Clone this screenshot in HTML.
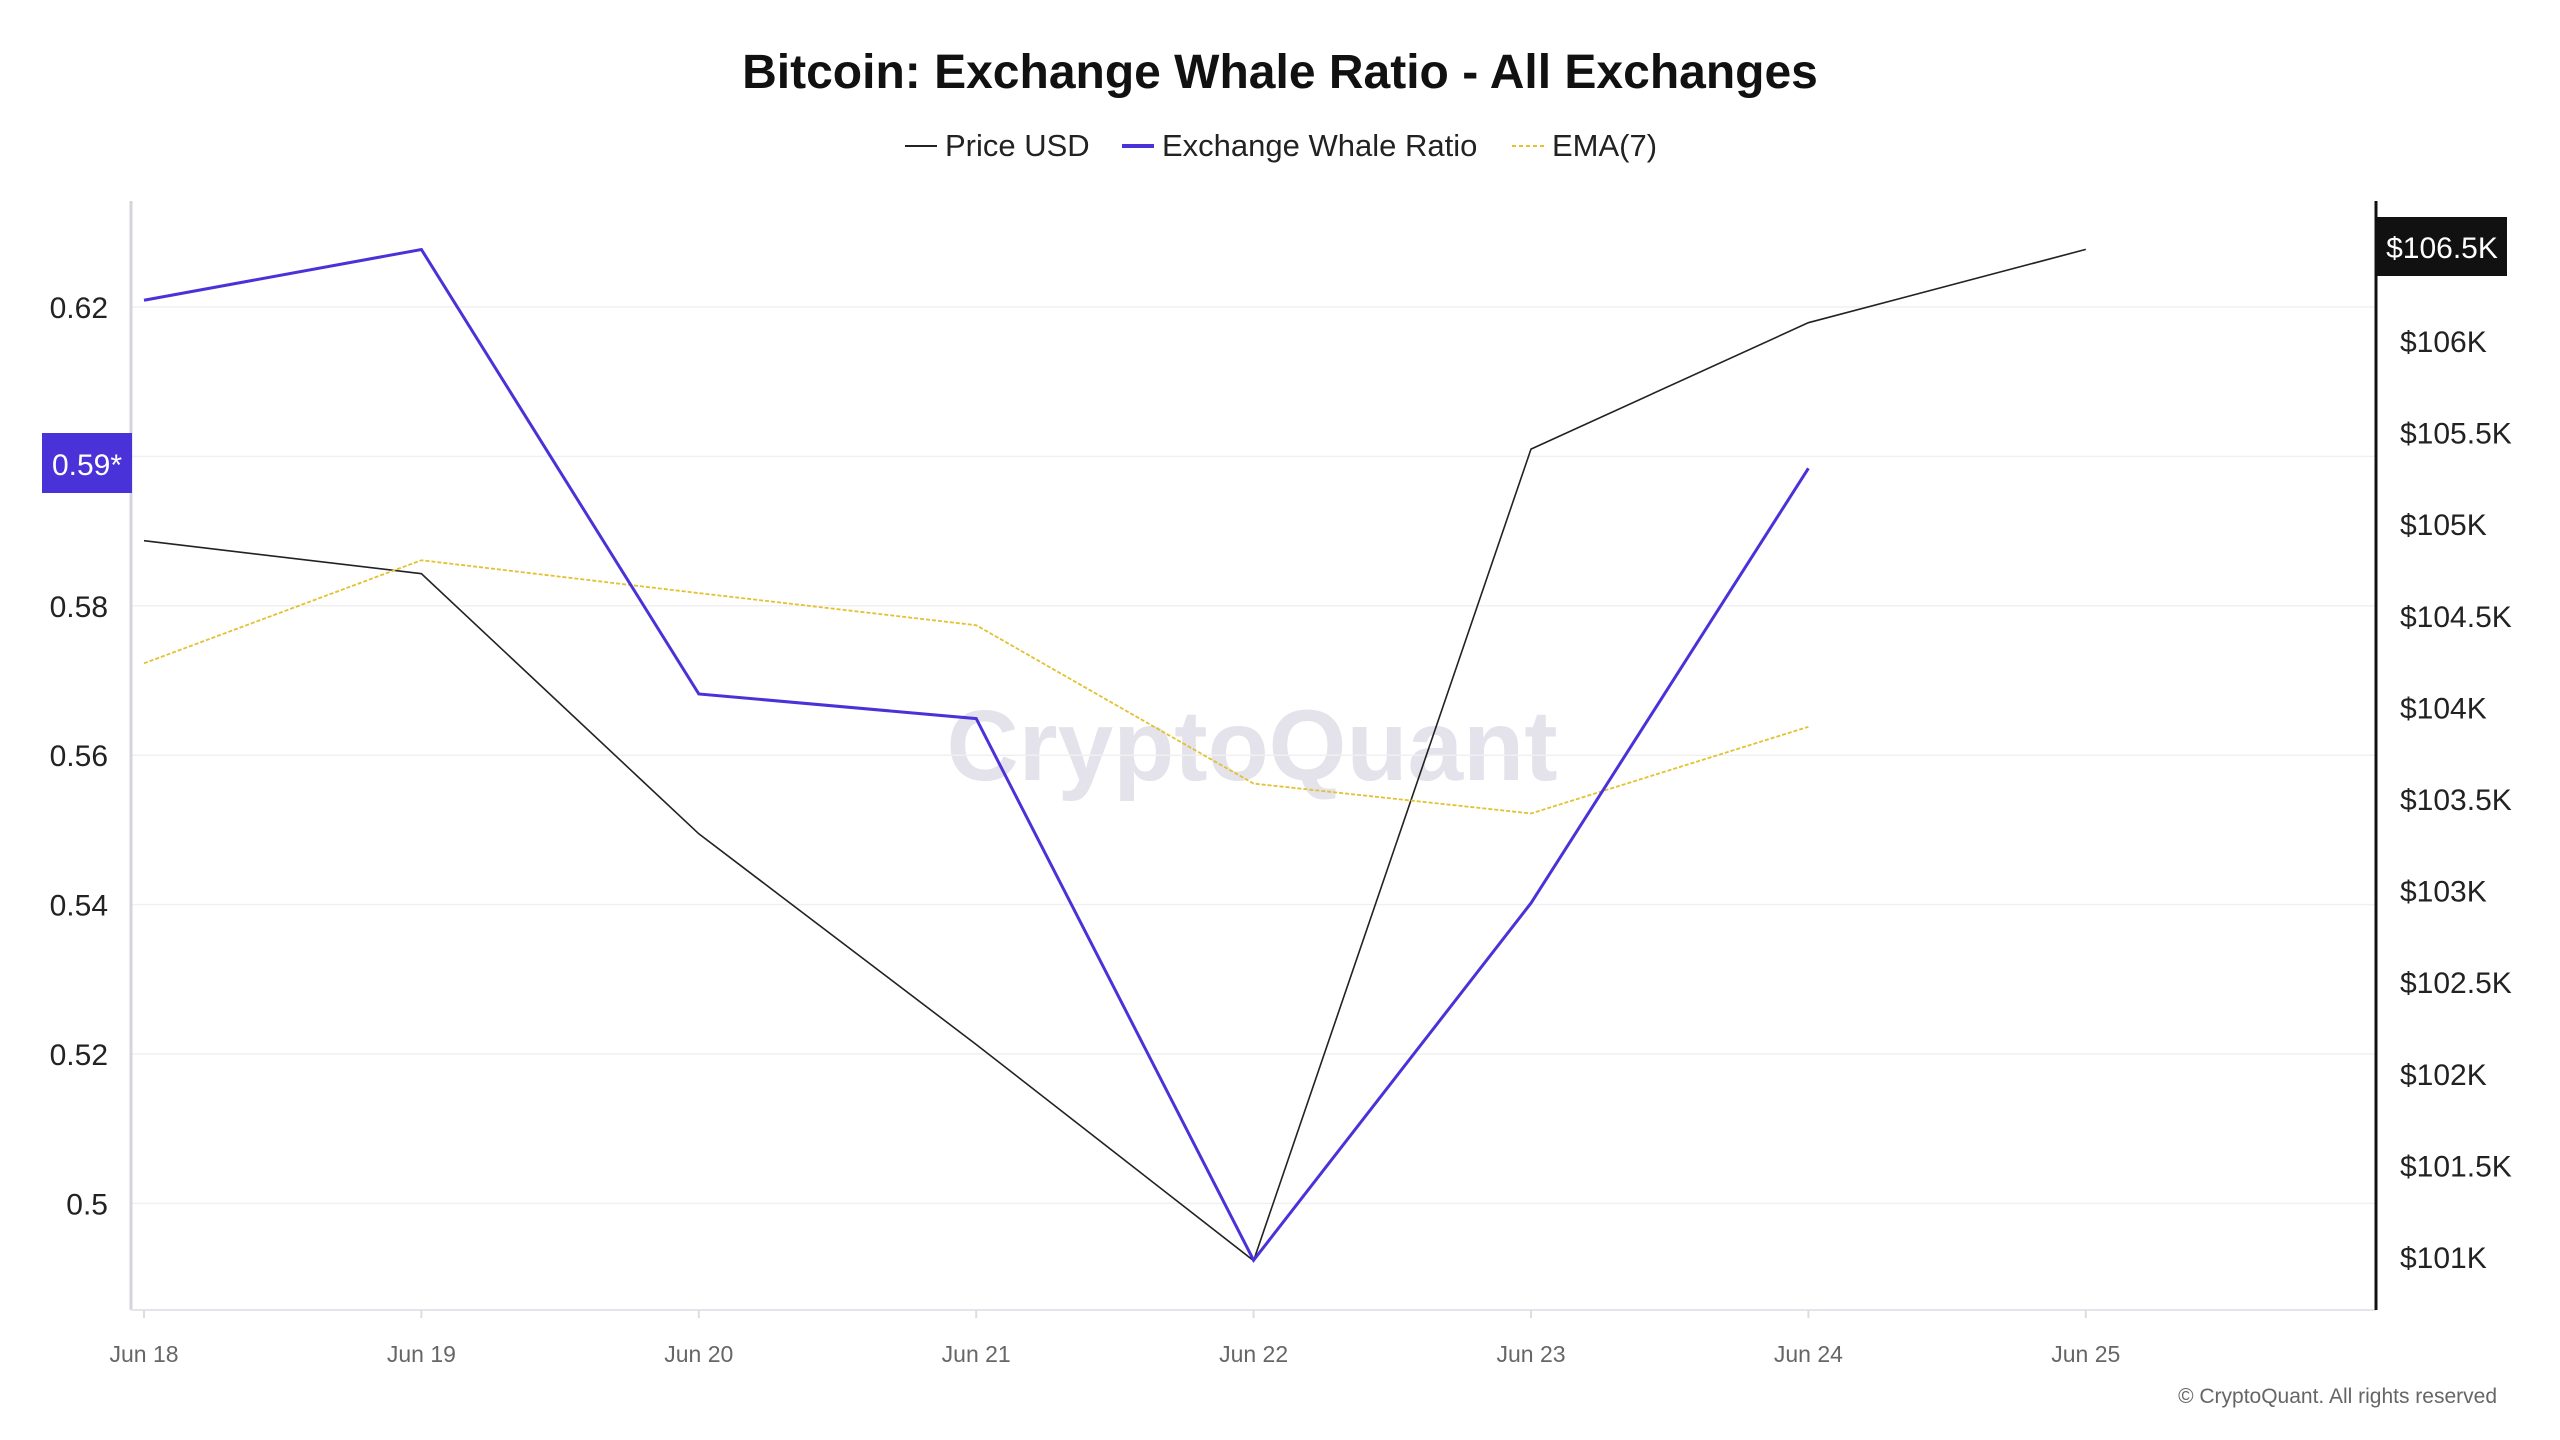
<!DOCTYPE html>
<html><head><meta charset="utf-8"><style>
html,body{margin:0;padding:0;background:#fff;}
svg{display:block;font-family:"Liberation Sans",sans-serif;}
</style></head><body>
<svg id="chart" width="2560" height="1440" viewBox="0 0 2560 1440">
<text x="1280" y="88" text-anchor="middle" font-size="48" font-weight="bold" fill="#111">Bitcoin: Exchange Whale Ratio - All Exchanges</text>
<g>
 <g><line x1="905" y1="146" x2="937" y2="146" stroke="#222" stroke-width="2"/><text x="945" y="156" font-size="31" fill="#222">Price USD</text></g>
 <g><line x1="1122" y1="146" x2="1154" y2="146" stroke="#4a32d9" stroke-width="4"/><text x="1162" y="156" font-size="31" fill="#222">Exchange Whale Ratio</text></g>
 <g><line x1="1512" y1="146" x2="1544" y2="146" stroke="#e3c12f" stroke-width="2" stroke-dasharray="4,3"/><text x="1552" y="156" font-size="31" fill="#222">EMA(7)</text></g>
</g>
<text x="1252" y="780" text-anchor="middle" font-size="100" font-weight="bold" fill="#e4e2ea">CryptoQuant</text>
<g id="grid"></g>
<line x1="131" y1="201" x2="131" y2="1310" stroke="#d4d4dc" stroke-width="3"/>
<line x1="131" y1="1310" x2="2376" y2="1310" stroke="#e4e4ea" stroke-width="2"/>
<line x1="2376" y1="201" x2="2376" y2="1310" stroke="#111" stroke-width="3"/>
<g id="ticks"></g>
<g id="series"></g>
<rect x="42" y="433" width="90" height="60" fill="#4a32d9"/>
<text x="87" y="475" text-anchor="middle" font-size="30" fill="#fff">0.59*</text>
<rect x="2377" y="217" width="130" height="59" fill="#111"/>
<text x="2442" y="258" text-anchor="middle" font-size="30" fill="#fff">$106.5K</text>
<text x="2497" y="1403" text-anchor="end" font-size="21" fill="#666">© CryptoQuant. All rights reserved</text>
</svg>
<script>
const dates = ["Jun 18","Jun 19","Jun 20","Jun 21","Jun 22","Jun 23","Jun 24","Jun 25"];
const whaleRatio = [0.6209,0.6277,0.5682,0.5649,0.4924,0.5402,0.5984];
const ema7 = [0.5723,0.5861,0.5817,0.5774,0.5562,0.5522,0.5638];
const priceK = [104.91,104.73,103.31,102.16,100.98,105.41,106.10,106.50];
const leftTicks = [0.5,0.52,0.54,0.56,0.58,0.62];
const rightTicks = [101,101.5,102,102.5,103,103.5,104,104.5,105,105.5,106];

const NS="http://www.w3.org/2000/svg";
function xPos(i){return 144+i*277.4;}
function yL(v){return 307+(0.62-v)/0.02*149.4;}
function yR(v){return 341+(106-v)/0.5*91.6;}
function mk(tag,attrs,parent,txt){const e=document.createElementNS(NS,tag);for(const k in attrs)e.setAttribute(k,attrs[k]);if(txt!==undefined)e.textContent=txt;parent.appendChild(e);return e;}
const grid=document.getElementById('grid'),ticks=document.getElementById('ticks'),series=document.getElementById('series');
[0.5,0.52,0.54,0.56,0.58,0.6,0.62].forEach(v=>{
 const l=mk('line',{x1:131,x2:2376,y1:yL(v),y2:yL(v),stroke:'#f0f0f3','stroke-width':1.5},grid);
 
 
});
leftTicks.forEach(v=>{
 const t=mk('text',{x:108,y:yL(v)+11,'text-anchor':'end','font-size':30,fill:'#222'},ticks,String(v));
 
 
});
rightTicks.forEach(v=>{
 const t=mk('text',{x:2400,y:yR(v)+11,'font-size':30,fill:'#222'},ticks,'$'+v+'K');
 
 
});
dates.forEach((d,i)=>{
 mk('line',{x1:xPos(i),x2:xPos(i),y1:1310,y2:1318,stroke:'#ddd','stroke-width':2},ticks);
 const t=mk('text',{x:xPos(i),y:1362,'text-anchor':'middle','font-size':23,fill:'#666'},ticks,d);
 
 
});
function pts(arr,f){return arr.map((v,i)=>xPos(i)+','+f(v)).join(' ');}
const pr=mk('polyline',{points:pts(priceK,yR),fill:'none',stroke:'#222','stroke-width':1.6},series);


const em=mk('polyline',{points:pts(ema7,yL),fill:'none',stroke:'#e3c12f','stroke-width':1.8,'stroke-dasharray':'4,2'},series);


const wr=mk('polyline',{points:pts(whaleRatio,yL),fill:'none',stroke:'#4a32d9','stroke-width':3},series);


</script>
</body></html>
